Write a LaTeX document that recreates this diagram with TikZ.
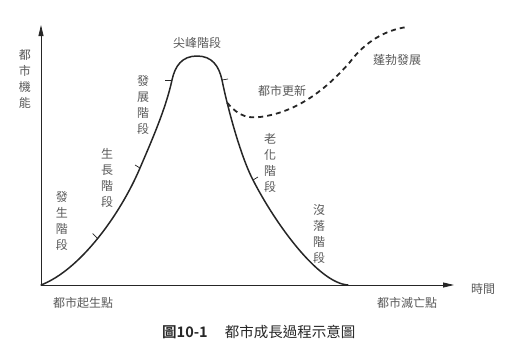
\documentclass[tikz,border=0pt]{standalone}
\usepackage{fontspec}
\newfontfamily\cjk{Noto Sans CJK TC}[BoldFont={Noto Sans CJK TC Bold}]
\usepackage{tikz}
\usetikzlibrary{positioning,arrows.meta,calc}
\tikzset{
  axis/.style={line width=0.8pt, draw=black!85, -{Triangle[length=11pt,width=5pt]}},
  growth/.style={line width=1.5pt, draw=black!85, line join=round, line cap=round},
  renewal/.style={line width=1.8pt, draw=black!85, dash pattern=on 5pt off 4pt},
  stagetick/.style={line width=0.7pt, draw=black!85},
  word/.style={font=\cjk\fontsize{12}{16}\selectfont, text=black!65, inner sep=0pt},
  vword/.style={word, align=center},
  caption/.style={font=\cjk\fontsize{14.5}{16}\selectfont, text=black!85, inner sep=0pt}
}

\begin{document}
\begin{tikzpicture}[x=1pt, y=-1pt]
    \useasboundingbox (0,0) rectangle (512,360);

    % axes
    \coordinate (origin) at (41,285);
    \coordinate (ytop)   at (41,25);
    \coordinate (xend)   at (454,285);
    \draw[axis] (origin) -- (ytop);
    \draw[axis] (origin) -- (xend);

    % points on the growth curve
    \coordinate (t2)    at (140,168);
    \coordinate (t3)    at (172,80);
    \coordinate (peak)  at (197,56);
    \coordinate (t4)    at (222,80);
    \coordinate (t5)    at (253,180);
    \coordinate (death) at (348,285);

    \draw[growth] (origin)
      .. controls (80,270) and (120,215) .. coordinate[pos=0.5] (t1) (t2)
      .. controls (152,140) and (166,108) .. (t3)
      .. controls (175,66) and (182,56) .. (peak)
      .. controls (212,56) and (219,66) .. (t4)
      .. controls (227,105) and (240,155) .. coordinate[pos=0.25] (renew) (t5)
      .. controls (275,223) and (318,283) .. (death);

    % renewal branch
    \coordinate (low)  at (260,117);
    \coordinate (bend) at (350,62);
    \coordinate (boom) at (407,27);
    \draw[renewal] (renew)
      .. controls (240,118) and (250,118) .. (low)
      .. controls (300,112) and (330,85) .. (bend)
      .. controls (365,42) and (385,30) .. (boom);

    \draw[stagetick] (t1) -- ++(-5,-5);
    \draw[stagetick] (t2) -- ++(-5,-3);
    \draw[stagetick] (t3) -- ++(-7,0);
    \draw[stagetick] (t4) -- ++(6,-1);
    \draw[stagetick] (t5) -- ++(5,-3);

    % labels
    \node[vword] (ylab)   at (25,79)   {都\\市\\機\\能};
    \node[word]  (tlab)   at (483,289) {時間};
    \node[word]  (birth)  at (83,303)  {都市起生點};
    \node[word]  (dead)   at (407,303) {都市滅亡點};

    \node[vword] (s1) at (62,221)  {發\\生\\階\\段};
    \node[vword] (s2) at (107,178) {生\\長\\階\\段};
    \node[vword] (s3) at (143,105) {發\\展\\階\\段};
    \node[word]  (s4) at (197,43)  {尖峰階段};
    \node[vword] (s5) at (270,163) {老\\化\\階\\段};
    \node[vword] (s6) at (319,234) {沒\\落\\階\\段};

    \node[word] (rlab) at (282,91) {都市更新};
    \node[word] (blab) at (397,60) {蓬勃發展};

    \node[caption] (capnum)  at (185,332) {\textbf{圖10-1}};
    \node[caption] (captext) at (290,332) {都市成長過程示意圖};
\end{tikzpicture}
\end{document}
